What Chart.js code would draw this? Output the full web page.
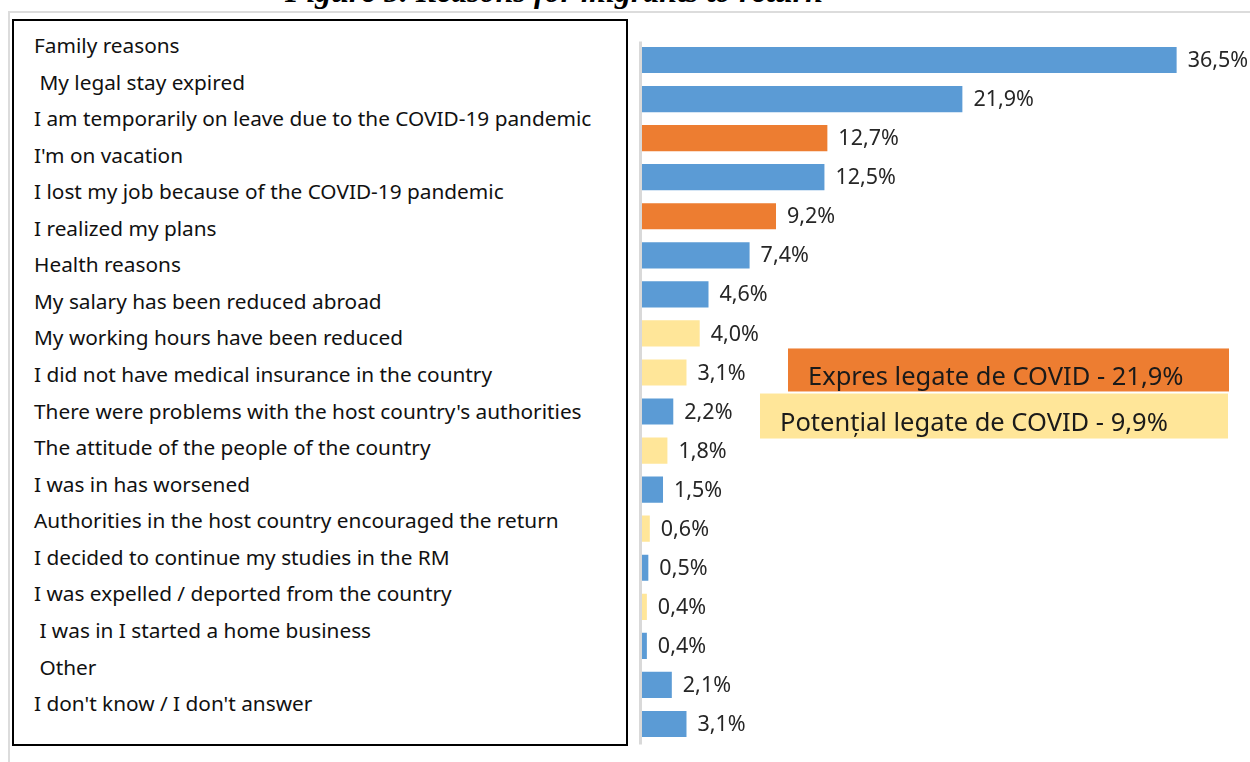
<!DOCTYPE html>
<html>
<head>
<meta charset="utf-8">
<script src="https://cdn.jsdelivr.net/npm/chart.js@4.4.0/dist/chart.umd.min.js"></script>
<style>
  html, body { margin: 0; padding: 0; background: #fff; }
  body { width: 1250px; height: 762px; position: relative; overflow: hidden; font-family: "Noto Sans", sans-serif; }
  #title { position: absolute; left: 0; width: 1108px; top: -27px; text-align: center;
           font: italic bold 32px "Liberation Serif", serif; color: #000; white-space: nowrap; }
  #frameTop { position: absolute; left: 8px; top: 11px; width: 1242px; height: 2px; background: #dcdcdc; }
  #frameLeft { position: absolute; left: 8px; top: 11px; width: 2px; height: 751px; background: #dcdcdc; }
  #reasonBox { position: absolute; left: 12px; top: 19px; width: 612px; height: 723px;
               border: 2px solid #000; background: #fff; }
  #reasonBox div { position: absolute; left: 20px; white-space: pre; font-size: 20.8px; color: #111; line-height: 24px; }
  #wrap { position: absolute; left: 0; top: 0; width: 1250px; height: 762px; }
</style>
</head>
<body>
<div id="frameTop"></div>
<div id="frameLeft"></div>
<div id="title">Figure 5. Reasons for migrants to return</div>
<div id="reasonBox"></div>
<div id="wrap"><canvas id="chart" width="1250" height="762"></canvas></div>
<script>
// reasons listed in the box on the left
const reasons = [
  "Family reasons",
  " My legal stay expired",
  "I am temporarily on leave due to the COVID-19 pandemic",
  "I'm on vacation",
  "I lost my job because of the COVID-19 pandemic",
  "I realized my plans",
  "Health reasons",
  "My salary has been reduced abroad",
  "My working hours have been reduced",
  "I did not have medical insurance in the country",
  "There were problems with the host country's authorities",
  "The attitude of the people of the country",
  "I was in has worsened",
  "Authorities in the host country encouraged the return",
  "I decided to continue my studies in the RM",
  "I was expelled / deported from the country",
  " I was in I started a home business",
  " Other",
  "I don't know / I don't answer"
];

// bar values (%), top to bottom
const shares = [36.5, 21.9, 12.7, 12.5, 9.2, 7.4, 4.6, 4.0, 3.1, 2.2, 1.8, 1.5, 0.6, 0.5, 0.4, 0.4, 2.1, 3.1];
// which group each bar belongs to
const groups = ['other', 'other', 'express', 'other', 'express', 'other', 'other', 'potential', 'potential',
                'other', 'potential', 'other', 'potential', 'other', 'potential', 'other', 'other', 'other'];

const groupColors = { other: '#5b9bd5', express: '#ed7d31', potential: '#ffe699' };
const notes = [
  { text: 'Expres legate de COVID - 21,9%', color: '#ed7d31' },
  { text: 'Potențial legate de COVID - 9,9%', color: '#ffe699' }
];

// left text box
const box = document.getElementById('reasonBox');
reasons.forEach((r, i) => {
  const d = document.createElement('div');
  d.textContent = r;
  d.style.top = (46 - 21 - 13 + i * 36.56) + 'px';
  box.appendChild(d);
});

const fmt = v => v.toFixed(1).replace('.', ',') + '%';

const extras = {
  id: 'extras',
  afterDraw(chart) {
    const ctx = chart.ctx;
    const area = chart.chartArea;
    const meta = chart.getDatasetMeta(0);
    ctx.save();
    // value axis line
    ctx.fillStyle = '#d9d9d9';
    ctx.fillRect(area.left - 2, area.top + 1, 3, area.bottom - area.top);
    // data labels
    ctx.fillStyle = '#262626';
    ctx.font = '21.5px "Noto Sans"';
    ctx.textBaseline = 'middle';
    meta.data.forEach((bar, i) => {
      ctx.fillText(fmt(shares[i]), bar.x + 11, bar.y + 1);
    });
    // annotation boxes, placed next to rows 8 and 9
    const c8 = meta.data[8].y, c9 = meta.data[9].y;
    const boxes = [
      { x0: 788, x1: 1229, y0: c8 - 24, y1: c8 + 19 },
      { x0: 760, x1: 1228, y0: c9 - 18, y1: c9 + 27 }
    ];
    ctx.font = '25.5px "Noto Sans"';
    notes.forEach((n, i) => {
      const b = boxes[i];
      ctx.fillStyle = n.color;
      ctx.fillRect(b.x0, b.y0, b.x1 - b.x0, b.y1 - b.y0);
      ctx.fillStyle = '#1a1a1a';
      ctx.fillText(n.text, b.x0 + 20, (b.y0 + b.y1) / 2 + 8);
    });
    ctx.restore();
  }
};

new Chart(document.getElementById('chart'), {
  type: 'bar',
  data: {
    labels: shares.map((_, i) => 'r' + i),
    datasets: [{
      data: shares,
      backgroundColor: groups.map(g => groupColors[g]),
      borderWidth: 0,
      barPercentage: 0.67,
      categoryPercentage: 1.0
    }]
  },
  options: {
    indexAxis: 'y',
    responsive: false,
    animation: false,
    layout: { padding: { left: 641, right: 0, top: 40.5, bottom: 18.5 } },
    plugins: { legend: { display: false }, tooltip: { enabled: false } },
    scales: {
      x: { display: false, min: 0, max: 41.5 },
      y: { display: false }
    }
  },
  plugins: [extras]
});
</script>
</body>
</html>
